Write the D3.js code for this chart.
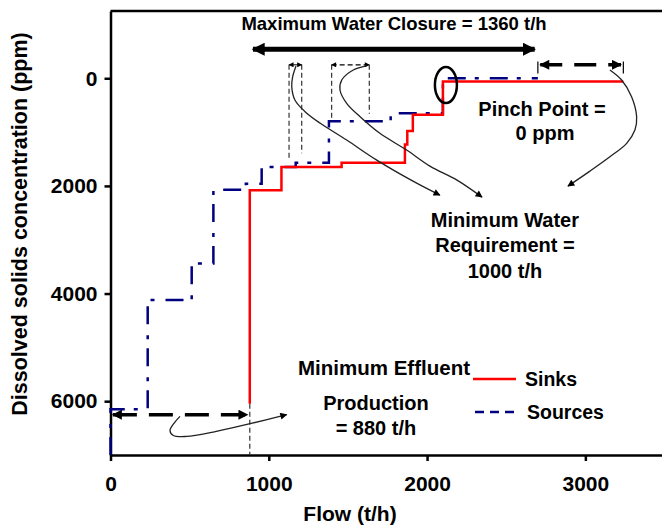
<!DOCTYPE html>
<html>
<head>
<meta charset="utf-8">
<script src="https://cdn.jsdelivr.net/npm/d3@7"></script>
<style>
  body { margin: 0; background: #fff; }
  text { font-family: "Liberation Sans", Arial, sans-serif; font-weight: bold; fill: #000; }
</style>
</head>
<body>
<script>
// Composite curves: cumulative flow (t/h) where each concentration level starts
var sinkFlow = [880, 880, 1080, 1460, 1860, 1875, 1910, 2100, 3240];
var sinkConc = [6050, 2080, 1650, 1570, 1230, 980, 680, 60, 60];

var sourceFlow = [0, 0, 235, 513, 650, 855, 955, 1170, 1380, 1770, 2100, 2700];
var sourceConc = [7000, 6150, 4120, 3440, 2070, 1960, 1650, 1570, 800, 650, 0, 0];

var xTicks = [0, 1000, 2000, 3000];
var yTicks = [0, 2000, 4000, 6000];

// SVG size and plot edges
var svgWidth = 662, svgHeight = 527;
var margin = { top: 11, left: 110.5, bottom: 455, right: 664.5 };

var svg = d3.select("body").append("svg")
  .attr("width", svgWidth)
  .attr("height", svgHeight);

var x = d3.scaleLinear().domain([0, 3500]).range([margin.left, margin.right]);
var y = d3.scaleLinear().domain([-1250, 7000]).range([margin.top, margin.bottom]);

// arrow heads
var defs = svg.append("defs");
function marker(id, w, h) {
  defs.append("marker")
    .attr("id", id)
    .attr("viewBox", "0 0 10 10")
    .attr("refX", 9).attr("refY", 5)
    .attr("markerUnits", "userSpaceOnUse")
    .attr("markerWidth", w).attr("markerHeight", h)
    .attr("orient", "auto-start-reverse")
    .append("path").attr("d", "M0,0L10,5L0,10z").attr("fill", "#000");
}
marker("big", 15, 13);
marker("mid", 11, 10);
marker("thin", 9, 7);
marker("tiny", 6, 5);

// axes
var xAxis = d3.axisBottom(x).tickValues(xTicks).tickFormat(d3.format("d"))
  .tickSize(6).tickSizeOuter(0).tickPadding(15);
var yAxis = d3.axisLeft(y).tickValues(yTicks).tickFormat(d3.format("d"))
  .tickSize(6).tickSizeOuter(0).tickPadding(7);

var gx = svg.append("g").attr("transform", "translate(0," + margin.bottom + ")").call(xAxis);
var gy = svg.append("g").attr("transform", "translate(" + margin.left + ",0)").call(yAxis);
[gx, gy].forEach(function(g) {
  g.selectAll("path, line").attr("stroke", "#000").attr("stroke-width", 2.5);
  g.selectAll("text").style("font-size", "21px").style("font-family", "'Liberation Sans', Arial, sans-serif").style("font-weight", "bold");
});

// top frame
svg.append("line")
  .attr("x1", margin.left).attr("x2", margin.right)
  .attr("y1", margin.top).attr("y2", margin.top)
  .attr("stroke", "#000").attr("stroke-width", 2.5);

// axis titles
svg.append("text")
  .attr("x", 350).attr("y", 521)
  .attr("text-anchor", "middle")
  .style("font-size", "21px")
  .text("Flow (t/h)");

svg.append("text")
  .attr("transform", "translate(27,224) rotate(-90)")
  .attr("text-anchor", "middle")
  .style("font-size", "21.5px")
  .text("Dissolved solids concentration (ppm)");

// composite curves
var line = d3.line()
  .x(function(d) { return x(d[0]); })
  .y(function(d) { return y(d[1]); })
  .curve(d3.curveStepAfter);

var sinks = d3.zip(sinkFlow, sinkConc);
var sources = d3.zip(sourceFlow, sourceConc);

svg.append("path").datum(sources)
  .attr("d", line)
  .attr("fill", "none")
  .attr("stroke", "#000080")
  .attr("stroke-width", 2.5)
  .attr("stroke-dasharray", "18,9,4,11");

svg.append("path").datum(sinks)
  .attr("d", line)
  .attr("fill", "none")
  .attr("stroke", "#ff0000")
  .attr("stroke-width", 2.5);

// thin dashed guide lines
var guides = [
  [880, 6050, 880, 7000],
  [1128, -250, 1128, 1490],
  [1208, -250, 1208, 1395],
  [1397, -250, 1397, 800],
  [1635, -250, 1635, 660]
];
svg.selectAll(".guide").data(guides).enter().append("line")
  .attr("class", "guide")
  .attr("x1", function(d) { return x(d[0]); })
  .attr("y1", function(d) { return y(d[1]); })
  .attr("x2", function(d) { return x(d[2]); })
  .attr("y2", function(d) { return y(d[3]); })
  .attr("stroke", "#333")
  .attr("stroke-width", 1.2)
  .attr("stroke-dasharray", "5,3");

// small arrows at the top of the boxes
svg.append("line")
  .attr("x1", x(1128)).attr("x2", x(1208)).attr("y1", y(-250)).attr("y2", y(-250))
  .attr("stroke", "#000").attr("stroke-width", 1)
  .attr("marker-start", "url(#tiny)").attr("marker-end", "url(#tiny)");
svg.append("line")
  .attr("x1", x(1397)).attr("x2", x(1635)).attr("y1", y(-250)).attr("y2", y(-250))
  .attr("stroke", "#000").attr("stroke-width", 1.2).attr("stroke-dasharray", "5,3")
  .attr("marker-start", "url(#tiny)").attr("marker-end", "url(#tiny)");

// maximum water closure arrow
svg.append("line")
  .attr("x1", x(900)).attr("x2", x(2680)).attr("y1", y(-540)).attr("y2", y(-540))
  .attr("stroke", "#000").attr("stroke-width", 5)
  .attr("marker-start", "url(#big)").attr("marker-end", "url(#big)");

// dashed arrow top right
svg.append("line")
  .attr("x1", x(2715)).attr("x2", x(3225)).attr("y1", y(-250)).attr("y2", y(-250))
  .attr("stroke", "#000").attr("stroke-width", 3.5).attr("stroke-dasharray", "22,12")
  .attr("marker-start", "url(#mid)").attr("marker-end", "url(#mid)");
[2700, 3240].forEach(function(f) {
  svg.append("line")
    .attr("x1", x(f)).attr("x2", x(f)).attr("y1", y(-310)).attr("y2", y(-90))
    .attr("stroke", "#000").attr("stroke-width", 1.2);
});

// dashed arrow bottom left
svg.append("line")
  .attr("x1", x(15)).attr("x2", x(865)).attr("y1", y(6250)).attr("y2", y(6250))
  .attr("stroke", "#000").attr("stroke-width", 3.5).attr("stroke-dasharray", "24,12")
  .attr("marker-start", "url(#mid)").attr("marker-end", "url(#mid)");

// curved pointer arrows
var curves = [
  [[1172, -229], [1151, -30], [1145, 156], [1165, 404], [1229, 621], [1323, 832], [1492, 1148], [1682, 1520], [1911, 1911], [2081, 2171]],
  [[1618, -229], [1534, -154], [1461, 32], [1450, 218], [1492, 465], [1577, 714], [1702, 1023], [1871, 1334], [2018, 1632], [2189, 1892], [2347, 2208]],
  [[3155, -154], [3229, 32], [3292, 342], [3324, 714], [3313, 962], [3261, 1209], [3155, 1459], [3029, 1725], [2890, 2004]],
  [[439, 6283], [407, 6389], [376, 6544], [397, 6637], [481, 6655], [649, 6575], [881, 6419], [1113, 6251]]
];
var curveLine = d3.line()
  .x(function(d) { return x(d[0]); })
  .y(function(d) { return y(d[1]); })
  .curve(d3.curveCatmullRom);
svg.selectAll(".pointer").data(curves).enter().append("path")
  .attr("class", "pointer")
  .attr("d", curveLine)
  .attr("fill", "none")
  .attr("stroke", "#222")
  .attr("stroke-width", 1.3)
  .attr("marker-end", "url(#thin)");

// pinch point ring
svg.append("ellipse")
  .attr("cx", x(2119)).attr("cy", y(125))
  .attr("rx", 11).attr("ry", 18)
  .attr("fill", "none").attr("stroke", "#000").attr("stroke-width", 2.5);

// annotation texts
var notes = [
  ["Maximum Water Closure = 1360 t/h", 1791, -900, 18.5],
  ["Pinch Point =", 2726, 703, 20],
  ["0 ppm", 2745, 1148, 20],
  ["Minimum Water", 2492, 2757, 20],
  ["Requirement =", 2492, 3226, 20],
  ["1000 t/h", 2492, 3702, 20],
  ["Minimum Effluent", 1728, 5520, 20.5],
  ["Production", 1677, 6171, 20],
  ["= 880 t/h", 1677, 6637, 20]
];
svg.selectAll(".note").data(notes).enter().append("text")
  .attr("class", "note")
  .attr("x", function(d) { return x(d[1]); })
  .attr("y", function(d) { return y(d[2]); })
  .attr("text-anchor", "middle")
  .style("font-size", function(d) { return d[3] + "px"; })
  .text(function(d) { return d[0]; });

// legend
var legend = svg.append("g");
legend.append("line")
  .attr("x1", 473).attr("x2", 516).attr("y1", 379).attr("y2", 379)
  .attr("stroke", "#ff0000").attr("stroke-width", 2.5);
legend.append("text").attr("x", 525).attr("y", 386).style("font-size", "19.5px").text("Sinks");
legend.append("line")
  .attr("x1", 475).attr("x2", 517).attr("y1", 412).attr("y2", 412)
  .attr("stroke", "#000080").attr("stroke-width", 2.5).attr("stroke-dasharray", "9,6");
legend.append("text").attr("x", 527).attr("y", 419).style("font-size", "19.5px").text("Sources");
</script>
</body>
</html>
